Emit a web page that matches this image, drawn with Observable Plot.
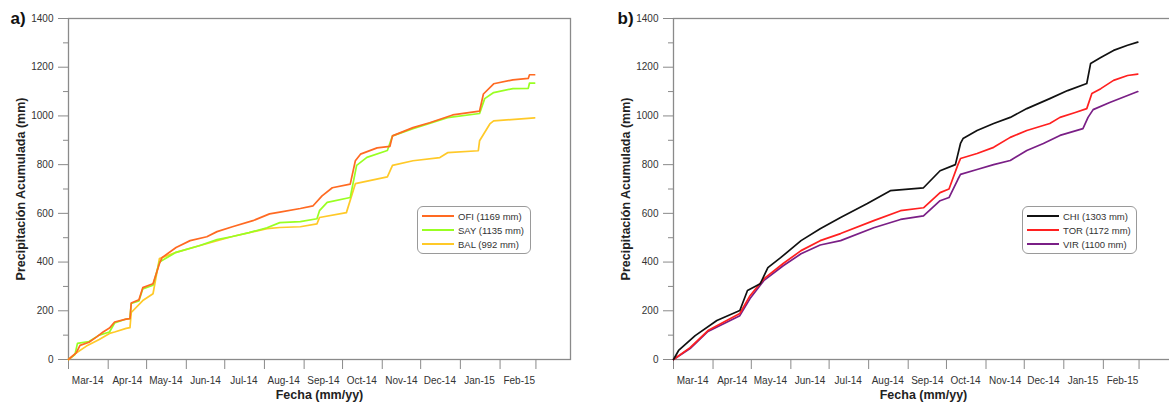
<!DOCTYPE html>
<html>
<head>
<meta charset="utf-8">
<script src="https://cdn.jsdelivr.net/npm/d3@7"></script>
<script src="https://cdn.jsdelivr.net/npm/@observablehq/plot@0.6"></script>
<style>
  html, body { margin: 0; padding: 0; background: #fff; overflow: hidden; }
  #wrap { position: relative; width: 1169px; height: 403px; overflow: hidden; font-family: "Liberation Sans", Arial, sans-serif; }
  .panel { position: absolute; top: 0; }
  .panel svg { max-width: none !important; display: block; }
  .legend { position: absolute; border: 1px solid #9a9a9a; border-radius: 6px; background: #fff; padding: 2px 4px; font-size: 9.5px; color: #333; }
  .legend .row { display: flex; align-items: center; height: 14px; white-space: nowrap; }
  .legend .sw { width: 32px; height: 0; border-top: 2px solid; margin-right: 4px; }
</style>
</head>
<body>
<div id="wrap">
  <div class="panel" id="pa" style="left:0; width:584px;"></div>
  <div class="panel" id="pb" style="left:584px; width:600px;"></div>
  <div class="legend" id="la" style="left:417px; top:206px; width:104px;"></div>
  <div class="legend" id="lb" style="left:1022px; top:206px; width:105px;"></div>
</div>
<script>
// ---- Data (cumulative precipitation, mm) ----
const ofiDates = ["2014-03-01","2014-03-07","2014-03-10","2014-03-17","2014-03-23","2014-03-28","2014-04-02","2014-04-06","2014-04-15","2014-04-18","2014-04-19","2014-04-25","2014-04-28","2014-05-06","2014-05-11","2014-05-13","2014-05-24","2014-06-04","2014-06-17","2014-06-25","2014-07-07","2014-07-23","2014-08-05","2014-08-13","2014-08-29","2014-09-08","2014-09-15","2014-09-23","2014-10-07","2014-10-11","2014-10-15","2014-10-28","2014-11-07","2014-11-09","2014-11-25","2014-12-08","2014-12-26","2015-01-16","2015-01-19","2015-01-27","2015-02-11","2015-02-23","2015-02-24","2015-02-28"];
const ofiMm = [0,27,58,71,93,113,129,154,166,168,232,245,295,311,393,418,460,488,504,525,545,570,598,605,620,631,672,705,720,816,843,869,875,918,952,972,1004,1020,1090,1132,1148,1154,1169,1169];

const sayDates = ["2014-03-01","2014-03-06","2014-03-08","2014-03-17","2014-03-25","2014-04-02","2014-04-06","2014-04-15","2014-04-18","2014-04-19","2014-04-25","2014-04-28","2014-05-06","2014-05-11","2014-05-24","2014-06-11","2014-06-25","2014-07-07","2014-07-20","2014-08-03","2014-08-13","2014-08-29","2014-09-11","2014-09-13","2014-09-19","2014-10-07","2014-10-12","2014-10-20","2014-11-05","2014-11-09","2014-11-25","2014-12-22","2015-01-16","2015-01-20","2015-01-27","2015-02-11","2015-02-23","2015-02-24","2015-02-28"];
const sayMm = [0,20,66,74,100,113,150,166,168,230,240,290,305,400,440,467,492,505,521,541,562,566,578,611,645,665,797,830,858,918,948,993,1010,1071,1096,1112,1113,1135,1135];

const balDates = ["2014-03-01","2014-03-07","2014-03-15","2014-03-25","2014-04-02","2014-04-06","2014-04-15","2014-04-18","2014-04-19","2014-04-28","2014-05-06","2014-05-11","2014-05-24","2014-06-11","2014-07-07","2014-08-03","2014-08-13","2014-08-29","2014-09-11","2014-09-13","2014-10-04","2014-10-11","2014-11-05","2014-11-09","2014-11-25","2014-12-16","2014-12-22","2015-01-15","2015-01-16","2015-01-24","2015-01-27","2015-02-28"];
const balMm = [0,27,55,82,107,113,128,131,193,242,270,414,440,467,505,537,542,545,557,583,603,722,750,797,816,829,849,857,898,967,980,992];

const chiDates = ["2014-03-01","2014-03-05","2014-03-18","2014-04-04","2014-04-22","2014-04-28","2014-05-08","2014-05-14","2014-05-24","2014-06-09","2014-06-24","2014-07-10","2014-07-31","2014-08-18","2014-09-13","2014-09-26","2014-10-08","2014-10-12","2014-10-14","2014-10-25","2014-11-07","2014-11-20","2014-12-03","2014-12-21","2015-01-04","2015-01-19","2015-01-22","2015-01-30","2015-02-09","2015-02-20","2015-02-28"];
const chiMm = [0,37,98,160,201,283,311,377,418,488,537,583,640,693,705,775,800,887,907,940,969,994,1030,1071,1104,1133,1215,1240,1269,1290,1303];

const torDates = ["2014-03-01","2014-03-14","2014-03-28","2014-04-22","2014-04-30","2014-05-11","2014-05-26","2014-06-09","2014-06-24","2014-07-10","2014-08-05","2014-08-26","2014-09-13","2014-09-26","2014-10-03","2014-10-10","2014-10-12","2014-10-25","2014-11-07","2014-11-20","2014-12-03","2014-12-21","2014-12-29","2015-01-10","2015-01-19","2015-01-23","2015-01-30","2015-02-09","2015-02-20","2015-02-28"];
const torMm = [0,49,119,189,262,332,394,447,488,517,570,611,623,685,700,800,825,846,871,912,940,969,994,1014,1030,1092,1112,1146,1166,1172];

const virDates = ["2014-03-01","2014-03-14","2014-03-28","2014-04-22","2014-04-30","2014-05-11","2014-05-26","2014-06-09","2014-06-24","2014-07-10","2014-08-05","2014-08-26","2014-09-13","2014-09-26","2014-10-03","2014-10-10","2014-10-12","2014-10-25","2014-11-07","2014-11-20","2014-12-03","2014-12-16","2014-12-29","2015-01-16","2015-01-20","2015-01-24","2015-02-06","2015-02-20","2015-02-28"];
const virMm = [0,45,115,180,250,325,385,434,470,488,541,575,590,652,665,740,760,780,800,817,858,887,920,948,994,1026,1055,1084,1100];

const seriesA = [
  {name: "OFI", label: "OFI (1169 mm)", color: "#ff6a22", dates: ofiDates, mm: ofiMm},
  {name: "SAY", label: "SAY (1135 mm)", color: "#99ff22", dates: sayDates, mm: sayMm},
  {name: "BAL", label: "BAL (992 mm)", color: "#ffc928", dates: balDates, mm: balMm}
];
const seriesB = [
  {name: "CHI", label: "CHI (1303 mm)", color: "#111111", dates: chiDates, mm: chiMm},
  {name: "TOR", label: "TOR (1172 mm)", color: "#ff2020", dates: torDates, mm: torMm},
  {name: "VIR", label: "VIR (1100 mm)", color: "#7a1f86", dates: virDates, mm: virMm}
];
const yTicks = [0, 200, 400, 600, 800, 1000, 1200, 1400];
const yMinor = [100, 300, 500, 700, 900, 1100, 1300];
const xStart = "2014-03-01", xEnd = "2015-03-28";
const yTitle = "Precipitación Acumulada (mm)";
const xTitle = "Fecha (mm/yy)";

// ---- Drawing ----
const parse = d3.utcParse("%Y-%m-%d");
const monthStarts = d3.utcMonth.range(parse("2014-03-01"), parse("2015-03-02"));
const monthMids = d3.utcMonth.range(parse("2014-03-01"), parse("2015-03-01")).map(d => d3.utcDay.offset(d, 15));
const fmtMonth = d3.utcFormat("%b-%y");

function rows(s) { return s.dates.map((d, i) => ({date: parse(d), mm: s.mm[i], station: s.name})); }

function panel(series, tag, width, marginLeft, marginRight, tagDx) {
  const marks = [
    Plot.frame({stroke: "#8a8a8a", strokeWidth: 1.3}),
    Plot.axisY({ticks: yTicks, tickSize: 10, tickPadding: 5, tickFormat: d => String(d), label: null, stroke: "#8a8a8a", fill: "#333", fontSize: 10}),
    Plot.axisY({ticks: yMinor, tickSize: 5, tickFormat: () => "", label: null, stroke: "#8a8a8a"}),
    Plot.axisX({ticks: monthStarts, tickSize: 10, tickFormat: () => "", label: null, stroke: "#8a8a8a"}),
    Plot.axisX({ticks: monthMids, tickSize: 0, tickPadding: 17, tickFormat: fmtMonth, label: null, fill: "#333", fontSize: 10})
  ];
  [...series].reverse().forEach(s => {
    marks.push(Plot.line(rows(s), {x: "date", y: "mm", stroke: s.color, strokeWidth: 1.7}));
  });
  marks.push(Plot.text([yTitle], {frameAnchor: "left", dx: -48, rotate: -90, textAnchor: "middle", lineAnchor: "middle", fontWeight: "bold", fontSize: 12.5, fill: "#222"}));
  marks.push(Plot.text([xTitle], {frameAnchor: "bottom", dy: 35, textAnchor: "middle", lineAnchor: "middle", fontWeight: "bold", fontSize: 12.5, fill: "#222"}));
  marks.push(Plot.text([tag], {frameAnchor: "top-left", dx: tagDx, dy: 0, textAnchor: "start", lineAnchor: "middle", fontWeight: "bold", fontSize: 17, fill: "#111"}));
  return Plot.plot({
    width, height: 403,
    marginLeft, marginRight, marginTop: 18, marginBottom: 44,
    style: {fontFamily: "'Liberation Sans', Arial, sans-serif", fontSize: "10px", background: "transparent", overflow: "visible", maxWidth: "none"},
    x: {type: "utc", domain: [parse(xStart), parse(xEnd)]},
    y: {domain: [0, 1400]},
    marks
  });
}

document.getElementById("pa").append(panel(seriesA, "a)", 584, 68, 14, -58));
document.getElementById("pb").append(panel(seriesB, "b)", 600, 89, 11, -56));

function legend(id, series) {
  const el = document.getElementById(id);
  series.forEach(s => {
    const r = document.createElement("div");
    r.className = "row";
    const sw = document.createElement("span");
    sw.className = "sw";
    sw.style.borderTopColor = s.color;
    const t = document.createElement("span");
    t.textContent = s.label;
    r.append(sw, t);
    el.append(r);
  });
}
legend("la", seriesA);
legend("lb", seriesB);
</script>
</body>
</html>
